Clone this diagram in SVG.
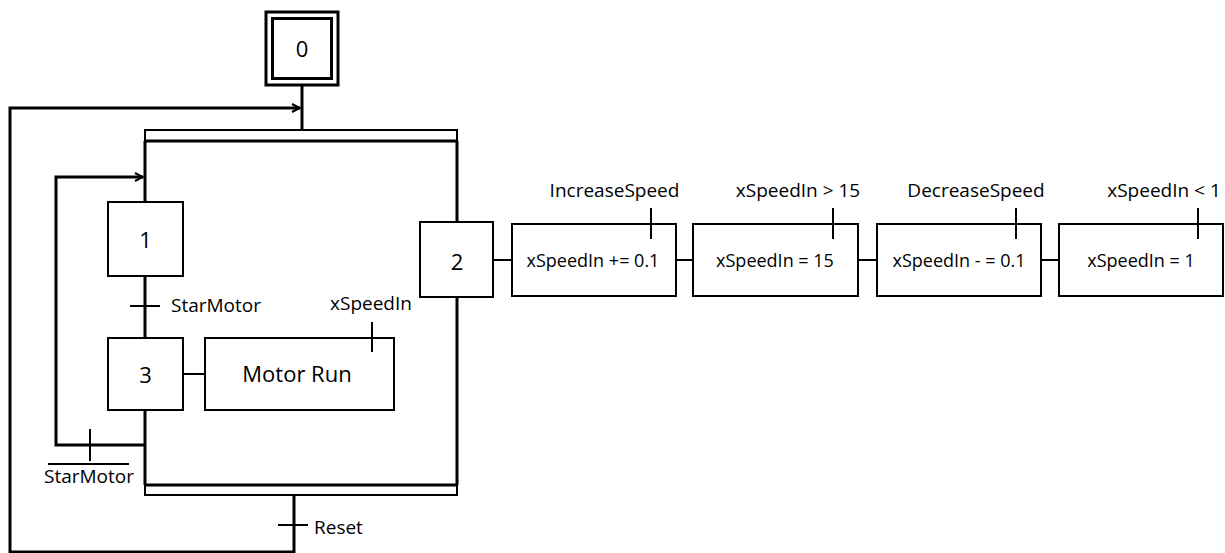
<svg xmlns="http://www.w3.org/2000/svg" width="1225" height="553" viewBox="0 0 1225 553">
<defs>
<style>
.box{fill:#fff;stroke:#000;stroke-width:2}
.thick{fill:none;stroke:#000;stroke-width:3}
.thin{fill:none;stroke:#000;stroke-width:2}
.num{font-family:"Open Sans","Noto Sans",sans-serif;font-size:22px;text-anchor:middle;fill:#000}
.lbl{font-family:"Open Sans","Noto Sans",sans-serif;font-size:19px;fill:#000}
.top{font-family:"Open Sans","Noto Sans",sans-serif;font-size:19px;text-anchor:middle;fill:#000}
.act{font-family:"Open Sans","Noto Sans",sans-serif;font-size:18px;text-anchor:middle;fill:#000}
</style>
<marker id="arr" viewBox="0 0 10 10" refX="9" refY="5" markerWidth="10" markerHeight="10" markerUnits="userSpaceOnUse" orient="auto">
<path d="M1,1 L9,5 L1,9" fill="none" stroke="#000" stroke-width="2"/>
</marker>
</defs>
<g id="connectors">
<line class="thick" x1="302" y1="86" x2="302" y2="130"/>
<polyline class="thick" points="294,495 294,552 10,552 10,108 300,108" marker-end="url(#arr)"/>
<path class="thin" d="M145,141 V130 H457 V141"/>
<line class="thick" x1="145" y1="141" x2="457" y2="141"/>
<line class="thick" x1="145" y1="141" x2="145" y2="202"/>
<line class="thick" x1="145" y1="276" x2="145" y2="338"/>
<line class="thick" x1="145" y1="410" x2="145" y2="485"/>
<polyline class="thick" points="145,445 56,445 56,177 143,177" marker-end="url(#arr)"/>
<line class="thick" x1="457" y1="141" x2="457" y2="222"/>
<line class="thick" x1="457" y1="297" x2="457" y2="485"/>
<line class="thick" x1="145" y1="485" x2="457" y2="485"/>
<path class="thin" d="M145,485 V495 H457 V485"/>
<line class="thin" x1="183" y1="374" x2="205" y2="374"/>
<line class="thin" x1="493" y1="260" x2="512" y2="260"/>
<line class="thin" x1="676" y1="260" x2="693" y2="260"/>
<line class="thin" x1="858" y1="260" x2="877" y2="260"/>
<line class="thin" x1="1041" y1="260" x2="1059" y2="260"/>
</g>
<g id="step0">
<rect x="266" y="12" width="72" height="73" fill="#fff" stroke="#000" stroke-width="3"/>
<rect x="272.5" y="18.5" width="59" height="60" fill="#fff" stroke="#000" stroke-width="3"/>
<text class="num" x="302" y="57">0</text>
</g>
<g id="step1">
<rect class="box" x="108" y="202" width="75" height="74"/>
<text class="num" x="145.5" y="248">1</text>
</g>
<g id="t_starmotor">
<line class="thin" x1="130" y1="306" x2="160" y2="306"/>
<text class="lbl" x="171" y="312">StarMotor</text>
</g>
<g id="step3">
<rect class="box" x="108" y="338" width="75" height="72"/>
<text class="num" x="145.5" y="383">3</text>
</g>
<g id="motorrun">
<rect class="box" x="205" y="338" width="189" height="72"/>
<text class="num" x="297" y="382">Motor Run</text>
<line class="thin" x1="372" y1="322" x2="372" y2="352"/>
<text class="top" x="371" y="310">xSpeedIn</text>
</g>
<g id="t_notstarmotor">
<line class="thin" x1="90" y1="429" x2="90" y2="461"/>
<line class="thin" x1="48" y1="464" x2="129" y2="464"/>
<text class="top" x="89" y="483">StarMotor</text>
</g>
<g id="t_reset">
<line class="thin" x1="278" y1="525" x2="308" y2="525"/>
<text class="lbl" x="314" y="534">Reset</text>
</g>
<g id="step2">
<rect class="box" x="420" y="222" width="73" height="75"/>
<text class="num" x="457" y="270">2</text>
</g>
<g id="action1">
<rect class="box" x="512" y="224" width="164" height="72"/>
<text class="act" x="593" y="267">xSpeedIn += 0.1</text>
<line class="thin" x1="651" y1="208" x2="651" y2="239"/>
<text class="top" x="614.5" y="197">IncreaseSpeed</text>
</g>
<g id="action2">
<rect class="box" x="693" y="224" width="165" height="72"/>
<text class="act" x="775" y="267">xSpeedIn = 15</text>
<line class="thin" x1="833" y1="208" x2="833" y2="239"/>
<text class="top" x="798" y="197">xSpeedIn &gt; 15</text>
</g>
<g id="action3">
<rect class="box" x="877" y="224" width="164" height="72"/>
<text class="act" x="959" y="267">xSpeedIn - = 0.1</text>
<line class="thin" x1="1016" y1="208" x2="1016" y2="239"/>
<text class="top" x="976" y="197">DecreaseSpeed</text>
</g>
<g id="action4">
<rect class="box" x="1059" y="224" width="164" height="72"/>
<text class="act" x="1141" y="267">xSpeedIn = 1</text>
<line class="thin" x1="1198" y1="208" x2="1198" y2="239"/>
<text class="top" x="1164" y="197">xSpeedIn &lt; 1</text>
</g>
</svg>
